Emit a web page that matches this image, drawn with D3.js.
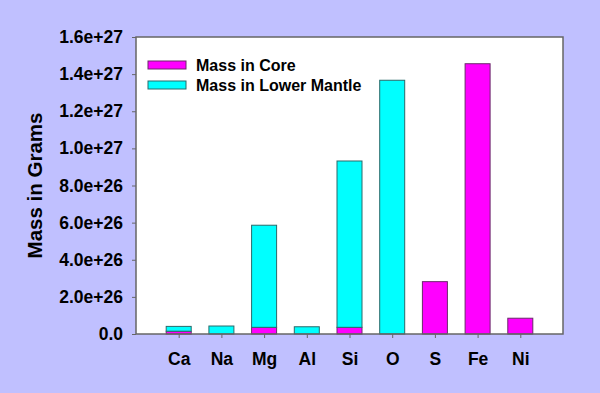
<!DOCTYPE html>
<html>
<head>
<meta charset="utf-8">
<script src="https://cdn.jsdelivr.net/npm/d3@7"></script>
<style>
  body { margin: 0; background: #c0c0ff; }
  svg { display: block; font-family: Arial, "Liberation Sans", sans-serif; }
</style>
</head>
<body>
<div id="chart"></div>
<script>
// element categories
const elements = ["Ca", "Na", "Mg", "Al", "Si", "O", "S", "Fe", "Ni"];
// grams
const massCore = [1.5e25, 0, 3.6e25, 0, 3.6e25, 0, 2.82e26, 1.456e27, 8.5e25];
const massLowerMantle = [2.6e25, 4.3e25, 5.5e26, 3.9e25, 8.96e26, 1.367e27, 0, 0, 0];
const yTicks = [0, 2e26, 4e26, 6e26, 8e26, 1e27, 1.2e27, 1.4e27, 1.6e27];
const yTickLabels = ["0.0", "2.0e+26", "4.0e+26", "6.0e+26", "8.0e+26", "1.0e+27", "1.2e+27", "1.4e+27", "1.6e+27"];
const seriesNames = ["Mass in Core", "Mass in Lower Mantle"];

const colors = ["#ff00ff", "#00ffff"];
const strokes = ["#6a2a6a", "#2a6a6a"];

const width = 600, height = 393;
const margin = {top: 37, right: 37, bottom: 59, left: 136};
const w = width - margin.left - margin.right;
const h = height - margin.top - margin.bottom;

const svg = d3.select("#chart").append("svg")
    .attr("width", width)
    .attr("height", height);

svg.append("rect")
    .attr("width", width).attr("height", height)
    .attr("fill", "#c0c0ff");

const g = svg.append("g")
    .attr("transform", `translate(${margin.left},${margin.top})`);

g.append("rect")
    .attr("width", w).attr("height", h)
    .attr("fill", "#ffffff");

const x = d3.scalePoint().domain(elements).range([0, w]).padding(1);
const y = d3.scaleLinear().domain([0, 1.6e27]).range([h, 0]);
const barW = 25;

// stack core below, lower mantle above
const table = elements.map((e, i) => ({el: e, core: massCore[i], mantle: massLowerMantle[i]}));
const stacked = d3.stack().keys(["core", "mantle"])(table);

stacked.forEach((layer, k) => {
    g.append("g").selectAll("rect")
        .data(layer.filter(d => d[1] - d[0] > 0))
        .join("rect")
        .attr("x", d => x(d.data.el) - barW / 2)
        .attr("y", d => y(d[1]))
        .attr("width", barW)
        .attr("height", d => y(d[0]) - y(d[1]))
        .attr("fill", colors[k])
        .attr("stroke", strokes[k])
        .attr("stroke-width", 1);
});

// frame
g.append("rect")
    .attr("width", w).attr("height", h)
    .attr("fill", "none")
    .attr("stroke", "#666")
    .attr("stroke-width", 1.5);

// y axis
const yAxis = d3.axisLeft(y)
    .tickValues(yTicks)
    .tickFormat((d, i) => yTickLabels[i])
    .tickSize(4).tickPadding(9);
g.append("g").call(yAxis)
    .call(a => a.select(".domain").remove())
    .call(a => a.selectAll("line").attr("stroke", "#666"))
    .call(a => a.selectAll("text")
        .attr("font-size", 17.5).attr("font-weight", "bold")
        .attr("fill", "#000")
        .attr("font-family", "Arial, 'Liberation Sans', sans-serif"));

// x axis
const xAxis = d3.axisBottom(x).tickSize(4).tickPadding(15);
g.append("g").attr("transform", `translate(0,${h})`).call(xAxis)
    .call(a => a.select(".domain").remove())
    .call(a => a.selectAll("line").attr("stroke", "#666"))
    .call(a => a.selectAll("text")
        .attr("font-size", 17.5).attr("font-weight", "bold")
        .attr("fill", "#000")
        .attr("font-family", "Arial, 'Liberation Sans', sans-serif"));

// y label
svg.append("text")
    .attr("transform", `translate(42,${margin.top + h / 2}) rotate(-90)`)
    .attr("text-anchor", "middle")
    .attr("font-size", 20.5).attr("font-weight", "bold")
    .text("Mass in Grams");

// legend
const legend = g.append("g").attr("transform", "translate(12,24)");
seriesNames.forEach((name, i) => {
    const row = legend.append("g").attr("transform", `translate(0,${i * 20})`);
    row.append("rect")
        .attr("width", 38).attr("height", 8)
        .attr("fill", colors[i]).attr("stroke", strokes[i]);
    row.append("text")
        .attr("x", 48).attr("y", 9.5)
        .attr("font-size", 16).attr("font-weight", "bold")
        .text(name);
});
</script>
</body>
</html>
